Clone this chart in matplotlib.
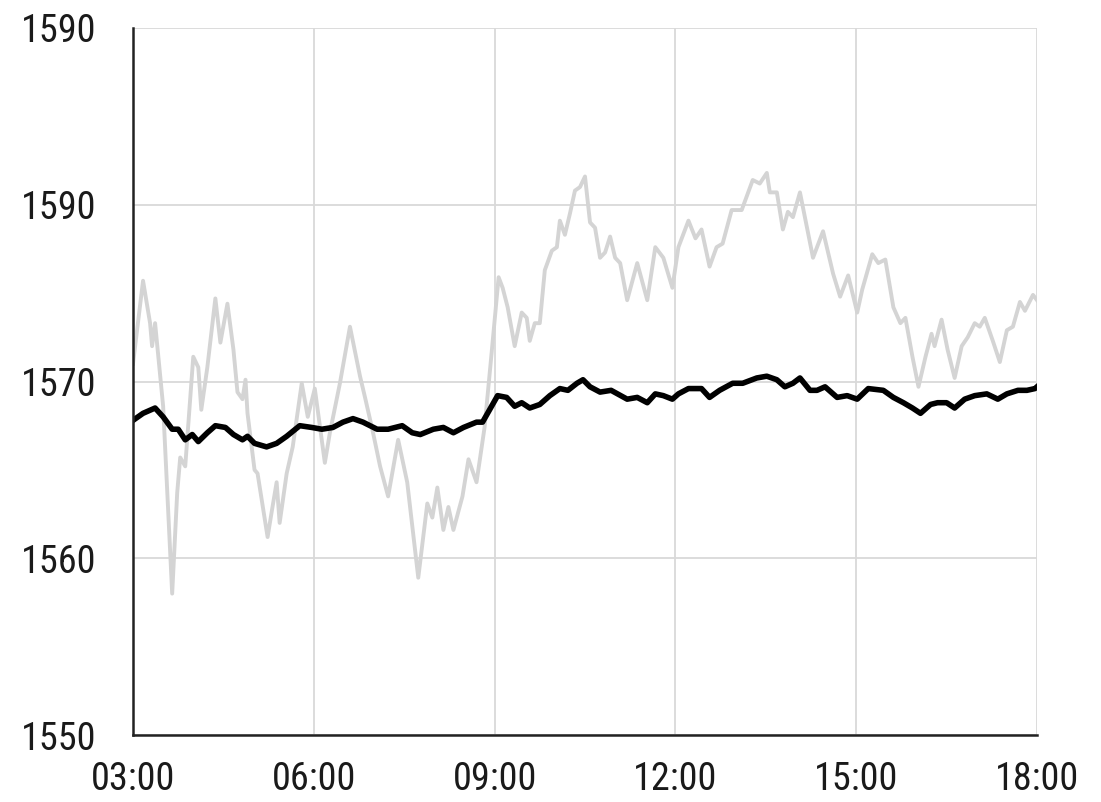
import matplotlib
matplotlib.use("Agg")
import matplotlib.pyplot as plt
import numpy as np

# minutes after 03:00 and readings for the two series
grey_minutes = [0, 10, 17, 19, 22, 30, 39, 44, 47, 52, 60, 65, 68, 74, 82, 87, 94, 100,
                104, 109, 112, 114, 121, 124, 131, 134, 138, 143, 146, 153, 159, 168,
                174, 181, 191, 196, 206, 216, 226, 231, 239, 246, 254, 264, 273, 284,
                293, 298, 303, 309, 314, 319, 328, 334, 342, 350, 357, 364, 368, 373,
                380, 387, 392, 395, 400, 405, 410, 417, 422, 425, 430, 435, 440, 445,
                450, 455, 460, 465, 470, 475, 480, 485, 492, 502, 512, 520, 528, 537,
                543, 553, 560, 566, 574, 581, 587, 596, 606, 617, 624, 631, 634, 641,
                647, 652, 657, 664, 671, 677, 687, 697, 704, 712, 721, 726, 736, 742,
                749, 757, 764, 769, 776, 782, 789, 795, 798, 805, 811, 818, 825, 831,
                838, 843, 848, 856, 863, 870, 876, 883, 888, 896, 900]
grey_values = [1571.0, 1575.7, 1573.3, 1572.0, 1573.3, 1568.6, 1558.0, 1563.7, 1565.7,
               1565.2, 1571.4, 1570.8, 1568.4, 1570.8, 1574.7, 1572.2, 1574.4, 1571.8,
               1569.4, 1569.0, 1570.1, 1568.2, 1565.0, 1564.8, 1562.3, 1561.2, 1562.6,
               1564.3, 1562.0, 1564.8, 1566.3, 1569.9, 1568.0, 1569.6, 1565.4, 1567.1,
               1569.9, 1573.1, 1570.3, 1569.1, 1567.1, 1565.2, 1563.5, 1566.7, 1564.3,
               1558.9, 1563.1, 1562.3, 1564.0, 1561.6, 1562.9, 1561.6, 1563.5, 1565.6,
               1564.3, 1567.4, 1571.6, 1575.9, 1575.3, 1574.2, 1572.0, 1573.9, 1573.6,
               1572.3, 1573.3, 1573.3, 1576.3, 1577.4, 1577.6, 1579.1, 1578.3, 1579.5,
               1580.8, 1581.0, 1581.6, 1579.0, 1578.7, 1577.0, 1577.3, 1578.2, 1577.0,
               1576.7, 1574.6, 1576.7, 1574.6, 1577.6, 1577.0, 1575.3, 1577.6, 1579.1,
               1578.1, 1578.6, 1576.5, 1577.6, 1577.8, 1579.7, 1579.7, 1581.4, 1581.2,
               1581.8, 1580.7, 1580.7, 1578.6, 1579.6, 1579.3, 1580.7, 1578.7, 1577.0,
               1578.5, 1576.1, 1574.8, 1576.0, 1573.9, 1575.2, 1577.2, 1576.7, 1576.9,
               1574.2, 1573.3, 1573.6, 1571.4, 1569.7, 1571.4, 1572.7, 1572.0, 1573.5,
               1571.8, 1570.2, 1572.0, 1572.5, 1573.3, 1573.1, 1573.6, 1572.3, 1571.1,
               1572.9, 1573.1, 1574.5, 1574.0, 1574.9, 1574.6]

black_minutes = [0, 10, 22, 30, 39, 45, 52, 59, 65, 74, 82, 92, 100, 109, 114, 121, 133,
                 143, 153, 166, 178, 188, 199, 209, 219, 229, 243, 254, 268, 278, 286,
                 299, 309, 319, 329, 342, 348, 357, 363, 372, 380, 387, 395, 405, 415,
                 425, 433, 442, 448, 455, 465, 476, 492, 502, 512, 520, 528, 537, 543,
                 553, 566, 574, 584, 597, 607, 621, 631, 641, 649, 657, 664, 674, 681,
                 689, 701, 711, 721, 732, 747, 757, 767, 776, 784, 794, 801, 810, 818,
                 828, 838, 850, 861, 870, 881, 890, 898, 900]
black_values = [1567.8, 1568.2, 1568.5, 1568.0, 1567.3, 1567.3, 1566.7, 1567.0, 1566.6,
                1567.1, 1567.5, 1567.4, 1567.0, 1566.7, 1566.9, 1566.5, 1566.3, 1566.5,
                1566.9, 1567.5, 1567.4, 1567.3, 1567.4, 1567.7, 1567.9, 1567.7, 1567.3,
                1567.3, 1567.5, 1567.1, 1567.0, 1567.3, 1567.4, 1567.1, 1567.4, 1567.7,
                1567.7, 1568.6, 1569.2, 1569.1, 1568.6, 1568.8, 1568.5, 1568.7, 1569.2,
                1569.6, 1569.5, 1569.9, 1570.1, 1569.7, 1569.4, 1569.5, 1569.0, 1569.1,
                1568.8, 1569.3, 1569.2, 1569.0, 1569.3, 1569.6, 1569.6, 1569.1, 1569.5,
                1569.9, 1569.9, 1570.2, 1570.3, 1570.1, 1569.7, 1569.9, 1570.2, 1569.5,
                1569.5, 1569.7, 1569.1, 1569.2, 1569.0, 1569.6, 1569.5, 1569.1, 1568.8,
                1568.5, 1568.2, 1568.7, 1568.8, 1568.8, 1568.5, 1569.0, 1569.2, 1569.3,
                1569.0, 1569.3, 1569.5, 1569.5, 1569.6, 1569.7]

x_ticks = [3, 6, 9, 12, 15, 18]
x_labels = ["03:00", "06:00", "09:00", "12:00", "15:00", "18:00"]
y_ticks = [1550, 1560, 1570, 1580, 1590]
y_labels = ["1550", "1560", "1570", "1590", "1590"]

plt.rcParams['font.family'] = ['Roboto Condensed', 'Liberation Sans Narrow', 'Roboto', 'DejaVu Sans']

fig = plt.figure(figsize=(11.01, 8.02), dpi=100)
ax = fig.add_axes([133 / 1101, 67 / 802, 904 / 1101, 707 / 802])

grey_hours = 3 + np.array(grey_minutes) / 60
black_hours = 3 + np.array(black_minutes) / 60

ax.plot(grey_hours, grey_values, color="#d4d4d4", lw=2.8, solid_joinstyle="round", zorder=3)
ax.plot(black_hours, black_values, color="black", lw=4.0, solid_joinstyle="round", zorder=4)

ax.set_xlim(3, 18)
ax.set_ylim(1550, 1590)
ax.set_xticks(x_ticks)
ax.set_xticklabels(x_labels)
ax.set_yticks(y_ticks)
ax.set_yticklabels(y_labels)

ax.grid(True, color="#d9d9d9", lw=1.3, zorder=0)
ax.set_axisbelow(True)
ax.tick_params(length=0, labelsize=27.5, colors="#1a1a1a")
ax.tick_params(axis="y", pad=26)
ax.tick_params(axis="x", pad=19)

for side in ["top", "right"]:
    ax.spines[side].set_visible(False)
for side in ["left", "bottom"]:
    ax.spines[side].set_color("#222222")
    ax.spines[side].set_linewidth(1.8)
    ax.spines[side].set_zorder(5)

fig.savefig("out.png", dpi=100)
